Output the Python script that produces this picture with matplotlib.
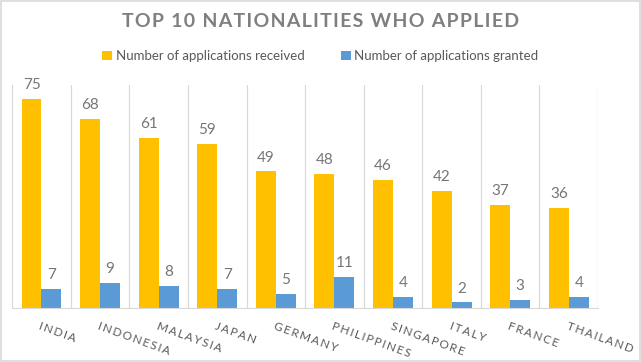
import matplotlib
matplotlib.use("Agg")
import matplotlib.pyplot as plt
import numpy as np
from matplotlib.patches import Rectangle

# Data
countries = ["INDIA", "INDONESIA", "MALAYSIA", "JAPAN", "GERMANY",
             "PHILIPPINES", "SINGAPORE", "ITALY", "FRANCE", "THAILAND"]
received = [75, 68, 61, 59, 49, 48, 46, 42, 37, 36]
granted = [7, 9, 8, 7, 5, 11, 4, 2, 3, 4]

plt.rcParams['font.family'] = ['Lato', 'DejaVu Sans']

def spaced(s, sep="\u2009"):
    return sep.join(s)

fig = plt.figure(figsize=(6.41, 3.62), dpi=100)
fig.patches.append(Rectangle((0.002, 0.003), 0.996, 0.994, transform=fig.transFigure,
                             fill=False, edgecolor="#D9D9D9", linewidth=1.2))
ax = fig.add_axes([0.019, 0.149, 0.914, 0.616])

x = np.arange(len(countries))
w = 0.34
ax.bar(x - w/2, received, w, color="#FFC000", label="Number of applications received")
ax.bar(x + w/2, granted, w, color="#5B9BD5", label="Number of applications granted")

for i in range(len(countries)):
    ax.text(x[i] - w/2, received[i] + 2.5, str(received[i]), ha="center", va="bottom",
            fontsize=11, color="#767676")
    ax.text(x[i] + w/2, granted[i] + 2.5, str(granted[i]), ha="center", va="bottom",
            fontsize=11, color="#767676")

ax.set_xlim(-0.5, len(countries) - 0.5)
ax.set_ylim(0, 80)
for b in np.arange(-0.5, len(countries), 1.0):
    ax.axvline(b, color="#D9D9D9", linewidth=0.9, zorder=0)
for s in ["top", "right", "left"]:
    ax.spines[s].set_visible(False)
ax.spines["bottom"].set_color("#D9D9D9")
ax.set_yticks([])
ax.set_xticks(x)
ax.set_xticklabels([spaced(c) for c in countries], rotation=-20, ha="left",
                   rotation_mode="anchor", fontsize=8.5, color="#595959")
ax.tick_params(axis="x", length=0, pad=9)

fig.text(0.5, 0.94, spaced("TOP 10 NATIONALITIES WHO APPLIED", "\u200a"), ha="center",
         va="center", fontsize=14, fontweight="bold", color="#7F7F7F")
fig.legend(loc="center", bbox_to_anchor=(0.5, 0.845), ncol=2, frameon=False,
           fontsize=9.5, handlelength=0.7, handleheight=0.7, handletextpad=0.3,
           columnspacing=2.8, labelcolor="#595959")

fig.savefig("out.png", dpi=100)
